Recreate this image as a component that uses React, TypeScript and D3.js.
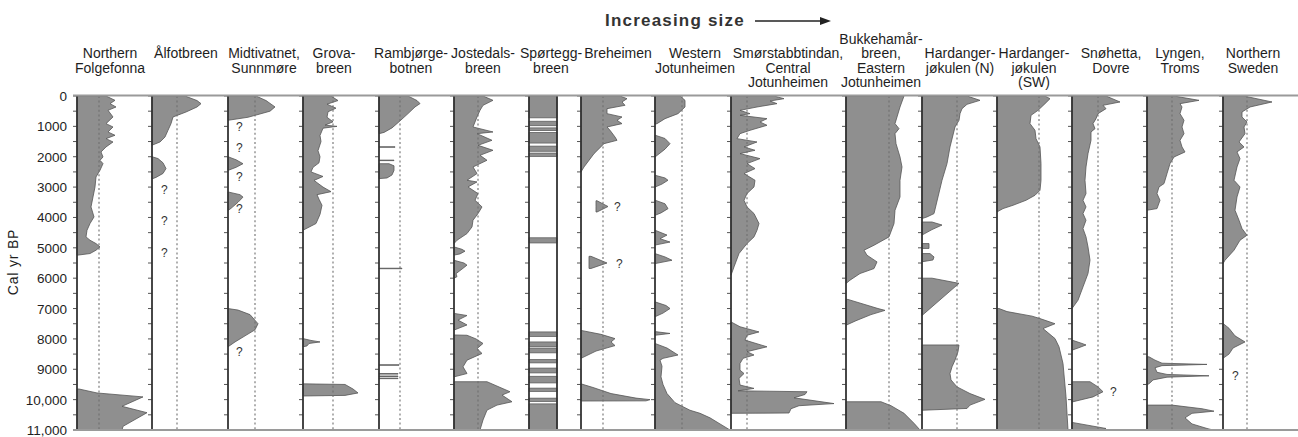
import React from "react";
import * as d3 from "d3";

// ---------- DATA ----------
// Each glacier: list of segments; each segment is a list of [age (cal yr BP), extent] points
// (or [age, innerExtent, outerExtent] for detached features).
const glacierLabels: string[][] = [
  ["Northern", "Folgefonna"],
  ["Ålfotbreen"],
  ["Midtivatnet,", "Sunnmøre"],
  ["Grova-", "breen"],
  ["Rambjørge-", "botnen"],
  ["Jostedals-", "breen"],
  ["Spørtegg-", "breen"],
  ["Breheimen"],
  ["Western", "Jotunheimen"],
  ["Smørstabbtindan,", "Central", "Jotunheimen"],
  ["Bukkehamår-", "breen,", "Eastern", "Jotunheimen"],
  ["Hardanger-", "jøkulen (N)"],
  ["Hardanger-", "jøkulen", "(SW)"],
  ["Snøhetta,", "Dovre"],
  ["Lyngen,", "Troms"],
  ["Northern", "Sweden"],
];

const ageTickValues = [0, 1000, 2000, 3000, 4000, 5000, 6000, 7000, 8000, 9000, 10000, 11000];
const ageTickLabels = ["0", "1000", "2000", "3000", "4000", "5000", "6000", "7000", "8000", "9000", "10,000", "11,000"];

const folgefonna = [
  [[0,29],[143,38],[252,33],[362,39],[472,31],[691,36],[910,29],[1020,36],[1185,31],[1294,38],[1404,29],[1514,36],[1678,29],[1843,24],[2008,26],[2117,23],[2227,26],[2446,23],[2666,19],[2995,18],[3324,16],[3653,14],[3982,17],[4201,13],[4421,10],[4640,9],[4750,13],[4860,19],[4970,23],[5079,19],[5189,13],[5244,0]],
  [[9650,2],[9780,20],[9910,66],[10220,45],[10430,70],[10880,46],[11000,45]],
];
const alfotbreen = [
  [[0,33],[150,45],[252,49],[362,45],[527,34],[691,21],[910,19],[1130,16],[1350,13],[1514,8],[1620,0]],
  [[2000,0],[2060,6],[2200,11],[2390,14],[2550,11],[2680,4],[2730,0]],
];
const midtivatnet = [
  [[0,28],[150,38],[360,47],[500,42],[610,30],[700,20],[800,0]],
  [[2000,0],[2100,8],[2230,15],[2350,8],[2450,0]],
  [[3160,0],[3250,12],[3330,15],[3500,10],[3700,3],[3770,0]],
  [[7000,0],[7050,10],[7200,22],[7500,30],[7700,27],[7900,17],[8100,7],[8260,0]],
];
const grovabreen = [
  [[0,28],[150,35],[270,24],[400,33],[520,25],[700,24],[850,30],[960,22],[1000,34],[1060,20],[1300,17],[1500,18],[1800,15],[2000,17],[2200,16],[2350,10],[2500,8],[2650,20],[2780,11],[3000,20],[3150,28],[3250,14],[3400,16],[3600,19],[3900,17],[4200,13],[4420,0]],
  [[7990,0],[8050,8],[8100,17],[8150,6],[8230,4],[8260,0]],
  [[9480,0],[9500,42],[9650,50],[9780,55],[9860,42],[9880,0]],
];
const rambjorgebotnen = [
  [[0,29],[150,38],[250,41],[360,36],[580,29],[850,20],[1050,13],[1200,5],[1240,0]],
  [[1672,16],[1688,16]],
  [[2112,15],[2128,15]],
  [[2230,10],[2300,15],[2450,15],[2600,13],[2700,8],[2720,0]],
  [[5672,23],[5688,23]],
  [[8852,20],[8868,20]],
  [[9142,19],[9158,19]],
  [[9222,19],[9238,19]],
  [[9292,19],[9308,19]],
];
const jostedalsbreen = [
  [[0,29],[143,39],[307,29],[472,26],[691,23],[1020,19],[1185,39],[1240,23],[1459,38],[1624,24],[1788,39],[1953,26],[2117,33],[2337,19],[2556,23],[2775,13],[2830,23],[2995,14],[3214,24],[3434,21],[3653,28],[3872,24],[4092,19],[4311,18],[4531,13],[4750,3],[4860,0]],
  [[4970,0],[5050,8],[5110,11],[5200,6],[5240,0]],
  [[5410,0],[5500,10],[5570,13],[5700,8],[5850,2],[5950,3],[6000,0]],
  [[7160,0],[7230,13],[7380,4],[7540,13],[7710,0]],
  [[7870,0],[7880,13],[8000,22],[8150,29],[8320,23],[8480,28],[8700,13],[8920,9],[9140,13],[9250,0]],
  [[9410,33],[9740,56],[9850,48],[10070,58],[10180,43],[10345,33],[10670,29],[11000,26]],
];
// Spørteggbreen: periods of glacier presence (grey bands)
const sporteggBands = [
  [0,720],[830,980],[1050,1140],[1200,1550],[1650,1820],[1880,1990],[4670,4840],
  [7770,7920],[8100,8250],[8300,8460],[8680,8790],[8960,9120],[9230,9450],[9620,9730],[9950,10060],[10140,11000],
];
const breheimen = [
  [[0,39],[88,46],[197,41],[307,44],[417,26],[581,26],[691,41],[800,36],[910,41],[1020,26],[1130,29],[1350,34],[1459,36],[1569,23],[1898,13],[2337,3],[2500,0]],
  [[3450,15,16],[3640,15,27],[3820,15,16]],
  [[5280,8,10],[5500,8,26],[5680,8,10]],
  [[7720,0],[7850,20],[7990,34],[8100,30],[8220,34],[8400,15],[8640,0]],
  [[9480,0],[9600,12],[9800,30],[9950,55],[10000,69],[10040,65],[10045,0]],
];
const westernJotunheimen = [
  [[0,25],[143,30],[362,30],[581,23],[746,10],[910,2],[930,0]],
  [[1290,0],[1400,10],[1570,15],[1750,10],[2010,0]],
  [[2610,0],[2700,10],[2775,13],[2900,7],[3000,0]],
  [[3430,0],[3550,10],[3710,13],[3850,6],[3930,0]],
  [[4420,0],[4580,12],[4700,5],[4810,15],[4910,0]],
  [[5190,0],[5300,10],[5410,17],[5520,0]],
  [[6780,0],[6900,11],[7000,15],[7150,8],[7270,0]],
  [[7760,0],[7820,15],[7880,0]],
  [[8150,0],[8300,12],[8530,23],[8640,8],[8700,5],[8900,7],[9250,6],[9500,8],[9800,12],[10100,20],[10350,35],[10450,45],[10600,55],[10800,65],[11000,75]],
];
const smorstabbtindan = [
  [[0,43],[88,53],[165,39],[252,46],[362,26],[472,9],[581,19],[636,9],[746,36],[856,29],[965,36],[1130,19],[1240,9],[1404,6],[1514,26],[1678,13],[1788,24],[1898,9],[2062,29],[2227,16],[2392,24],[2556,13],[2775,24],[2995,23],[3214,16],[3434,13],[3653,16],[3872,23],[4201,28],[4421,26],[4640,23],[4860,16],[5189,8],[5628,3],[5902,0]],
  [[7440,0],[7600,9],[7770,28],[7880,16],[8040,14],[8260,36],[8420,16],[8530,23],[8640,12],[8810,9],[9030,9],[9140,13],[9300,8],[9520,9],[9630,23],[9710,7],[9740,76],[9830,74],[9940,63],[10130,103],[10200,68],[10300,60],[10440,58],[10450,0]],
];
const bukkehamarbreen = [
  [[0,58],[362,54],[691,51],[910,49],[1075,53],[1240,49],[1569,50],[2008,54],[2337,56],[2776,54],[3324,54],[3763,49],[4201,48],[4640,43],[4915,28],[5079,18],[5244,21],[5463,31],[5683,28],[5847,14],[6066,4],[6176,0]],
  [[6700,2],[6800,12],[7000,32],[7060,39],[7200,25],[7400,10],[7550,0]],
  [[10070,35],[10200,45],[10450,58],[10780,68],[11000,74]],
];
const hardangerN = [
  [[0,45],[143,58],[274,45],[417,40],[581,38],[801,37],[1020,33],[1678,28],[2227,25],[2776,20],[3324,16],[3873,12],[3982,5],[4037,0]],
  [[4150,10],[4250,20],[4400,10],[4580,0]],
  [[4860,7],[5020,7]],
  [[5190,8],[5300,12],[5400,11],[5460,0]],
  [[6000,10],[6170,37],[7230,0]],
  [[8200,37],[8420,36],[8700,33],[8920,30],[9140,28],[9350,29],[9580,35],[9800,48],[9990,63],[10180,48],[10290,45],[10350,0]],
];
const hardangerSW = [
  [[0,48],[88,53],[252,48],[472,41],[637,34],[910,33],[1130,38],[1404,39],[1678,43],[2227,44],[2776,44],[3105,43],[3270,38],[3434,29],[3599,16],[3708,6],[3818,0]],
  [[7000,2],[7100,10],[7250,35],[7330,43],[7500,58],[7660,46],[7990,58],[8260,62],[8810,66],[9900,69],[11000,71]],
];
const snohetta = [
  [[0,34],[197,48],[307,31],[417,34],[581,26],[746,24],[910,21],[1075,23],[1185,19],[1459,19],[1898,16],[2337,14],[2775,13],[3214,14],[3434,11],[3653,14],[3872,11],[4092,14],[4366,11],[4640,14],[4970,16],[5408,18],[5847,16],[6286,11],[6725,6],[7000,0]],
  [[8040,0],[8150,10],[8200,14],[8300,6],[8370,0]],
  [[9410,18],[9580,26],[9740,31],[9910,21],[10070,1],[10080,0]],
  [[10750,0],[10950,34],[11000,30]],
];
const lyngen = [
  [[0,27],[143,52],[252,33],[362,35],[581,33],[800,37],[1020,35],[1240,37],[1459,33],[1678,35],[1843,38],[2008,27],[2227,23],[2556,20],[2885,17],[2995,12],[3214,10],[3434,13],[3708,10],[3763,0]],
  [[8590,2],[8700,8],[8800,15],[8840,60],[8880,15],[8950,8],[9100,10],[9170,20],[9215,62],[9260,20],[9350,6],[9450,3],[9520,0]],
  [[10180,25],[10300,55],[10380,67],[10450,45],[10600,38],[10800,45],[10950,60],[11000,66]],
];
const northernSweden = [
  [[0,21],[197,49],[362,27],[527,19],[691,19],[856,24],[1020,21],[1240,22],[1514,16],[1678,21],[1843,14],[2062,17],[2337,14],[2775,11],[2995,17],[3324,14],[3763,12],[4092,16],[4366,19],[4585,24],[4750,17],[5079,11],[5408,2],[5518,0]],
  [[7490,0],[7650,6],[7900,12],[8100,22],[8300,10],[8500,6],[8640,0]],
];

const glacierSeries = [
  folgefonna, alfotbreen, midtivatnet, grovabreen, rambjorgebotnen, jostedalsbreen,
  null, breheimen, westernJotunheimen, smorstabbtindan, bukkehamarbreen,
  hardangerN, hardangerSW, snohetta, lyngen, northernSweden,
];

// reference (dotted) line per glacier, same extent units
const referenceLine = [22, 25, 27, 30, 21, 24, null, 22, 27, 16, 43, 35, 42, 26, 25, 24];

// uncertain ("?") occurrences: [glacier index, age, extent]
const questionMarks = [
  [1, 3090, 9], [1, 4090, 9], [1, 5170, 9],
  [2, 1000, 8], [2, 1700, 8], [2, 2650, 8], [2, 3720, 8], [2, 8420, 8],
  [7, 3650, 33], [7, 5520, 35],
  [13, 9740, 38],
  [15, 9190, 9],
];

// ---------- LAYOUT ----------
const W = 1298;
const H = 437;
const LEFT = 77;
const panelWidths = [75, 76, 75, 76, 75, 75, 52, 74, 76, 115, 76, 75, 75, 75, 76, 75];
const labelCenters = [110, 186, 264, 334, 411, 483, 551, 618, 695, 788, 881, 960, 1034, 1111, 1180, 1253];
const FONT = "'Liberation Sans', Arial, Helvetica, sans-serif";

export default function App() {
  const y = d3.scaleLinear().domain([0, 11000]).range([96, 430]);
  const x = d3.scaleLinear().domain([0, 75]).range([0, 75]);
  const lefts: number[] = [];
  panelWidths.reduce((acc, w) => { lefts.push(acc); return acc + w; }, LEFT);

  const tickAges = d3.range(0, 11001, 500);

  const makeArea = (left: number) =>
    d3.area<number[]>()
      .y((d) => y(d[0]))
      .x0((d) => left + x(d.length > 2 ? d[1] : 0))
      .x1((d) => left + x(d.length > 2 ? d[2] : d[1]))
      .curve(d3.curveLinear);

  const fill = "#8f8f8f";
  const edge = "#555";

  return (
    <svg width={W} height={H} style={{ position: "absolute", left: 0, top: 0, background: "#fff" }}
      fontFamily={FONT}>
      <rect x={0} y={0} width={W} height={H} fill="#fff" />

      {/* title */}
      <text x={605} y={26} fontSize={17} fontWeight="bold" fill="#333" letterSpacing={1.2}>Increasing size</text>
      <line x1={755} y1={21} x2={822} y2={21} stroke="#222" strokeWidth={1.6} />
      <path d="M820,17 L831,21 L820,25 Z" fill="#222" />

      {/* column labels */}
      {glacierLabels.map((lines, i) => {
        const startRow = lines.length === 4 ? 0 : 1;
        return (
          <text key={"lab" + i} textAnchor="middle" fontSize={14} fill="#1e1e1e">
            {lines.map((ln, j) => (
              <tspan key={j} x={labelCenters[i]} y={44 + (startRow + j) * 14.3}>{ln}</tspan>
            ))}
          </text>
        );
      })}

      {/* y axis labels */}
      {ageTickValues.map((a, i) => (
        <text key={"yt" + a} x={67} y={y(a) + 5} textAnchor="end" fontSize={13.5} fill="#1e1e1e">{ageTickLabels[i]}</text>
      ))}
      <text transform={`translate(18,${262}) rotate(-90)`} textAnchor="middle" fontSize={14} fill="#1e1e1e" letterSpacing={0.8}>Cal yr BP</text>

      {/* glacier profiles */}
      {glacierSeries.map((segs, i) => {
        if (!segs) return null;
        const area = makeArea(lefts[i]);
        return (
          <g key={"g" + i}>
            {segs.map((seg, k) => (
              <path key={k} d={area(seg as number[][]) || ""} fill={fill} stroke={edge} strokeWidth={0.8} strokeLinejoin="round" />
            ))}
          </g>
        );
      })}

      {/* Spørteggbreen bar */}
      {(() => {
        const l = lefts[6];
        const bw = 28;
        return (
          <g>
            {sporteggBands.map((b, k) => (
              <rect key={k} x={l} y={y(b[0])} width={bw} height={y(b[1]) - y(b[0])} fill={fill} stroke="#555" strokeWidth={0.7} />
            ))}
            <line x1={l + bw} y1={y(0)} x2={l + bw} y2={y(11000)} stroke="#333" strokeWidth={1.8} />
          </g>
        );
      })()}

      {/* reference dotted lines */}
      {referenceLine.map((r, i) =>
        r == null ? null : (
          <line key={"ref" + i} x1={lefts[i] + x(r)} x2={lefts[i] + x(r)} y1={y(0)} y2={y(11000)}
            stroke="#6f6f6f" strokeWidth={1.1} strokeDasharray="2,2.6" />
        )
      )}

      {/* question marks */}
      {questionMarks.map((q, k) => (
        <text key={"q" + k} x={lefts[q[0]] + x(q[2])} y={y(q[1]) + 4.5} fontSize={12} fill="#333">?</text>
      ))}

      {/* panel left borders and ticks */}
      {lefts.map((l, i) => (
        <g key={"ax" + i}>
          {tickAges.map((a) => (
            <line key={a} x1={l - 4} x2={l} y1={y(a)} y2={y(a)} stroke="#555" strokeWidth={1} />
          ))}
          <line x1={l} x2={l} y1={y(0)} y2={y(11000)} stroke="#333" strokeWidth={1.8} />
        </g>
      ))}

      {/* top & bottom frame */}
      <line x1={73} x2={W} y1={y(0) - 0.5} y2={y(0) - 0.5} stroke="#9a9a9a" strokeWidth={2} />
      <line x1={73} x2={W} y1={y(11000)} y2={y(11000)} stroke="#9a9a9a" strokeWidth={2} />
    </svg>
  );
}
